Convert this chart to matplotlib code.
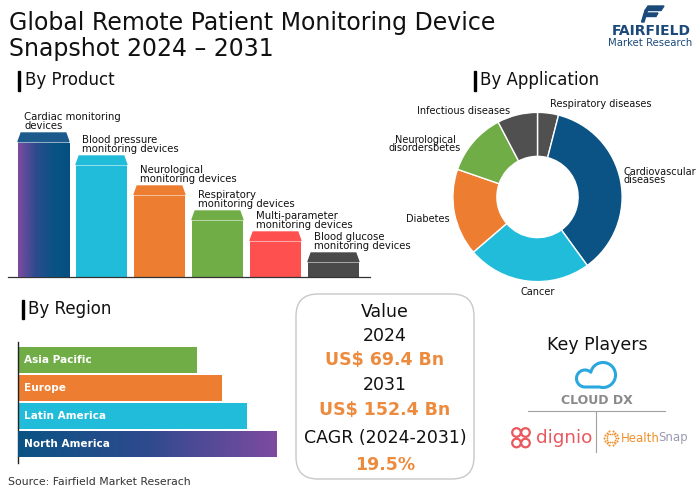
import numpy as np
import matplotlib
matplotlib.use('Agg')
import matplotlib.pyplot as plt
from matplotlib.patches import Polygon, FancyBboxPatch, Circle, Rectangle
from matplotlib.colors import LinearSegmentedColormap

plt.rcParams['font.family'] = ['DejaVu Sans']

W, H = 700, 491

# Data
products = ['Cardiac monitoring\ndevices', 'Blood pressure\nmonitoring devices',
            'Neurological\nmonitoring devices', 'Respiratory\nmonitoring devices',
            'Multi-parameter\nmonitoring devices', 'Blood glucose\nmonitoring devices']
product_vals = [144, 121, 91, 66, 45, 24]
product_colors = ['#0B5384', '#22BCDB', '#ED7D31', '#70AD47', '#FF5050', '#4A4A4A']

apps = ['Respiratory diseases', 'Cardiovascular\ndiseases', 'Cancer', 'Diabetes',
        'Neurological\ndisordersbetes', 'Infectious diseases']
app_vals = [4.0, 36.0, 23.7, 16.6, 12.0, 7.7]
app_colors = ['#505050', '#0B5384', '#22BCDB', '#ED7D31', '#70AD47', '#505050']

regions = ['Asia Pacific', 'Europe', 'Latin America', 'North America']
region_vals = [179, 204, 229, 259]
region_colors = ['#70AD47', '#ED7D31', '#22BCDB', '#0B5384']

value_lines = ['Value', '2024', 'US$ 69.4 Bn', '2031', 'US$ 152.4 Bn', 'CAGR (2024-2031)', '19.5%']

ORANGE = '#EC8B3E'
NAVY = '#1B4A7A'

fig = plt.figure(figsize=(7, 4.91), dpi=100)
fig.patch.set_facecolor('white')

# background axes in pixel coordinates for text and decorations
bg = fig.add_axes([0, 0, 1, 1])
bg.set_xlim(0, W)
bg.set_ylim(H, 0)
bg.axis('off')


def px_axes(x0, y0, x1, y1):
    a = fig.add_axes([x0 / W, 1 - y1 / H, (x1 - x0) / W, (y1 - y0) / H])
    a.patch.set_alpha(0)
    return a


# title
bg.text(9, 29.5, 'Global Remote Patient Monitoring Device', fontsize=17, va='baseline',
        ha='left', color='#111111')
bg.text(9, 55.5, 'Snapshot 2024 \u2013 2031', fontsize=17, va='baseline', ha='left', color='#111111')

# Fairfield logo
bg.add_patch(Polygon([(648, 6), (664, 6), (661, 10.5), (645, 10.5)], color=NAVY))
bg.add_patch(Polygon([(645, 13), (658, 13), (656, 16.5), (643.5, 16.5)], color=NAVY))
bg.add_patch(Polygon([(645, 10.5), (647.5, 10.5), (644, 22), (641.5, 22)], color=NAVY))
bg.text(651, 31, 'FAIRFIELD', fontsize=10, fontweight='bold', color=NAVY, ha='center', va='center')
bg.text(650, 43, 'Market Research', fontsize=7.3, color=NAVY, ha='center', va='center')

# section headings
for (bx, by0, by1, tx, ty, txt) in [(18, 71, 91, 25, 80, 'By Product'),
                                     (474, 71, 91, 480, 80, 'By Application'),
                                     (22, 300, 319, 28, 309, 'By Region')]:
    bg.add_patch(Rectangle((bx, by0), 2.2, by1 - by0, color='black'))
    bg.text(tx, ty, txt, fontsize=12, va='center', ha='left', color='#111111')

# ---- By Product ----
ax1 = px_axes(8, 100, 370, 277)
x = np.arange(len(products))
bw = 0.88
cap = 10
bars = ax1.bar(x, [v - cap for v in product_vals], width=bw, color=product_colors, zorder=2)
for s in ['top', 'right', 'left']:
    ax1.spines[s].set_visible(False)
ax1.spines['bottom'].set_color('#333333')
ax1.spines['bottom'].set_linewidth(0.9)
ax1.set_xticks([])
ax1.set_yticks([])

# gradient on the first bar
grad_cmap = LinearSegmentedColormap.from_list('pb', ['#7D4AA0', '#2E4A8E', '#0B5384', '#055080'])
b0 = bars[0]
im = ax1.imshow(np.linspace(0, 1, 100).reshape(1, -1), cmap=grad_cmap, aspect='auto',
                extent=(b0.get_x(), b0.get_x() + bw, 0, b0.get_height()), zorder=3)
im.set_clip_path(b0)
ax1.set_xlim(-0.612, 5.63)
ax1.set_ylim(0, 177)

cap_colors = ['#1C5A8C'] + product_colors[1:]
for i, v in enumerate(product_vals):
    l, r = i - bw / 2, i + bw / 2
    ax1.add_patch(Polygon([(l, v - cap + 1.2), (r, v - cap + 1.2), (r - 0.055, v), (l + 0.055, v)],
                          color=cap_colors[i], zorder=3))
    ax1.text(l + 0.11, v + 2, products[i], fontsize=7.3, ha='left', va='bottom',
             linespacing=0.82, color='#111111')

# ---- By Application ----
ax2 = px_axes(427.5, 87, 647.5, 307)
ax2.pie(app_vals, startangle=90, counterclock=False, colors=app_colors,
        wedgeprops=dict(width=0.52, edgecolor='white', linewidth=1))
ax2.set_xlim(-1.3, 1.3)
ax2.set_ylim(-1.3, 1.3)
ax2.set_aspect('equal')

app_pos = [(550, 104, 'left'), (623, 176, 'left'), (538, 292, 'center'), (450, 219, 'right'),
           (425, 144, 'center'), (510, 111, 'right')]
for lbl, (lx, ly, ha) in zip(apps, app_pos):
    bg.text(lx, ly, lbl, fontsize=7, ha=ha, va='center', linespacing=0.85, color='#111111')

# ---- By Region ----
ax3 = px_axes(18, 342, 300, 463)
y = np.arange(len(regions))
rbars = ax3.barh(y, region_vals, height=0.93, color=region_colors, zorder=2)
for s in ['top', 'right', 'bottom']:
    ax3.spines[s].set_visible(False)
ax3.spines['left'].set_color('#222222')
ax3.spines['left'].set_linewidth(1)
ax3.set_xticks([])
ax3.set_yticks([])

rb = rbars[3]
grad2 = LinearSegmentedColormap.from_list('rg', ['#0B5384', '#2E4A8E', '#7D4AA0'])
im2 = ax3.imshow(np.linspace(0, 1, 100).reshape(1, -1), cmap=grad2, aspect='auto',
                 extent=(0, rb.get_width(), rb.get_y() + rb.get_height(), rb.get_y()), zorder=3)
im2.set_clip_path(rb)
ax3.set_xlim(0, 282)
ax3.set_ylim(3.68, -0.643)
for i, name in enumerate(regions):
    ax3.text(6, i, name, color='white', fontsize=7.6, fontweight='bold', va='center', ha='left', zorder=4)

bg.text(8, 482, 'Source: Fairfield Market Reserach', fontsize=7.8, color='#333333', va='center')

# ---- Value box ----
bg.add_patch(FancyBboxPatch((296, 294), 178, 185, boxstyle='round,pad=0,rounding_size=22',
                            ec='#C8C8C8', fc='none', lw=1))
vy = [312, 336, 360, 385, 410, 438, 465]
for txt, yy in zip(value_lines, vy):
    hl = txt.startswith('US$') or txt.endswith('%')
    bg.text(385, yy, txt, fontsize=12.5, ha='center', va='center',
            color=ORANGE if hl else '#111111', fontweight='bold' if hl else 'normal')

# ---- Key players ----
bg.text(597, 345, 'Key Players', fontsize=12.5, ha='center', va='center', color='#111111')

# cloud outline
gx, gy = np.meshgrid(np.linspace(570, 625, 300), np.linspace(355, 395, 240))
d1 = np.hypot(gx - 603, gy - 375) - 12.5
d2 = np.hypot(gx - 585, gy - 378.5) - 8.5
d3 = np.maximum(np.maximum(585 - gx, gx - 603), np.maximum(375 - gy, gy - 387))
bg.contour(gx, gy, np.minimum(np.minimum(d1, d2), d3), levels=[0], colors='#2AA7DF', linewidths=2.2)
bg.text(597, 400, 'CLOUD DX', fontsize=9, fontweight='bold', color='#8A8A8A', ha='center', va='center')

bg.plot([528, 665], [411, 411], color='#A0A0A0', lw=0.8)
bg.plot([596, 596], [412, 452], color='#A0A0A0', lw=0.8)

# dignio
for cx, cy in [(516.5, 432.5), (525.5, 432.5), (516.5, 443), (525.5, 443)]:
    bg.add_patch(Circle((cx, cy), 4.3, fill=False, ec='#E9585E', lw=1.6))
bg.text(536, 438, 'dignio', fontsize=13.2, color='#E9585E', ha='left', va='center')

# HealthSnap
ang = np.linspace(0, 2 * np.pi, 14, endpoint=False)
for rr, sz in [(7, 2.2), (4.5, 1.6)]:
    bg.scatter(611 + rr * np.cos(ang), 438 + rr * np.sin(ang), s=sz, color='#F0902A', lw=0)
t1 = bg.text(621, 438, 'Health', fontsize=8.5, color='#F0902A', ha='left', va='center')
bg.annotate('Snap', xy=(1, 0.5), xycoords=t1, xytext=(-1.5, 0), textcoords='offset points',
            fontsize=8.5, color='#9A9AB0', ha='left', va='center')

fig.savefig('out.png', dpi=100, facecolor='white')
